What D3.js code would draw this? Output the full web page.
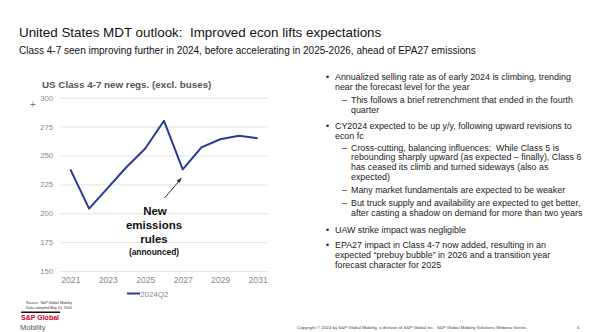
<!DOCTYPE html>
<html><head><meta charset="utf-8">
<script src="https://cdn.jsdelivr.net/npm/d3@7"></script>
<style>
html,body{margin:0;padding:0;background:#fff;}
svg{display:block;font-family:"Liberation Sans",Arial,sans-serif;}
svg text{white-space:pre;}
</style></head>
<body>
<svg id="c" width="602" height="332"></svg>
<script>
const years = [2021,2022,2023,2024,2025,2026,2027,2028,2029,2030,2031];
const regs2024Q2 = [238,204,222,240,256,280,238,257,264,267,265];
const yTicks = [150,175,200,225,250,275,300];
const xTickYears = [2021,2023,2025,2027,2029,2031];
const seriesName = "2024Q2";
const bullets = [
  {lvl:0, lines:["Annualized selling rate as of early 2024 is climbing, trending","near the forecast level for the year"]},
  {lvl:1, lines:["This follows a brief retrenchment that ended in the fourth","quarter"]},
  {lvl:0, lines:["CY2024 expected to be up y/y, following upward revisions to","econ fc"]},
  {lvl:1, lines:["Cross-cutting, balancing influences:  While Class 5 is","rebounding sharply upward (as expected \u2013 finally), Class 6","has ceased its climb and turned sideways (also as","expected)"]},
  {lvl:1, lines:["Many market fundamentals are expected to be weaker"]},
  {lvl:1, lines:["But truck supply and availability are expected to get better,","after casting a shadow on demand for more than two years"]},
  {lvl:0, lines:["UAW strike impact was negligible"]},
  {lvl:0, lines:["EPA27 impact in Class 4-7 now added, resulting in an","expected \u201cprebuy bubble\u201d in 2026 and a transition year","forecast character for 2025"]}
];

const svg = d3.select("#c");

// Titles
svg.append("text").attr("x",19).attr("y",37).attr("font-size",13.4).attr("fill","#111")
  .text("United States MDT outlook:  Improved econ lifts expectations");
svg.append("text").attr("x",19).attr("y",54).attr("font-size",10).attr("fill","#111")
  .text("Class 4-7 seen improving further in 2024, before accelerating in 2025-2026, ahead of EPA27 emissions");

// Chart
svg.append("text").attr("x",42).attr("y",88).attr("font-size",9.8).attr("font-weight","bold").attr("fill","#555")
  .text("US Class 4-7 new regs. (excl. buses)");

const x = d3.scalePoint().domain(years).range([61,267]).padding(0.5);
const y = d3.scaleLinear().domain([150,300]).range([271,97.7]);

const gy = svg.append("g").attr("transform","translate(61,0)")
  .call(d3.axisLeft(y).tickValues(yTicks).tickSize(-206).tickPadding(8));
gy.select(".domain").remove();
gy.selectAll(".tick line").attr("stroke","#e3e3e3").attr("stroke-width",1);
gy.selectAll(".tick text").attr("fill","#8a8a8a").attr("font-size",7.7).attr("font-family","Liberation Sans, Arial, sans-serif");

const gx = svg.append("g").attr("transform","translate(0,271)")
  .call(d3.axisBottom(x).tickValues(xTickYears).tickSize(0).tickPadding(6).tickFormat(d3.format("d")));
gx.select(".domain").remove();
gx.selectAll(".tick text").attr("fill","#8a8a8a").attr("font-size",8.6).attr("font-family","Liberation Sans, Arial, sans-serif");

const line = d3.line().x((d,i)=>x(years[i])).y(d=>y(d));
svg.append("path").datum(regs2024Q2).attr("d",line).attr("fill","none")
  .attr("stroke","#2a3a97").attr("stroke-width",2).attr("stroke-linejoin","round");

// cursor-like mark
svg.append("text").attr("x",33).attr("y",108).attr("font-size",10).attr("fill","#777").attr("text-anchor","middle").text("+");

// Annotation arrow
svg.append("line").attr("x1",164.5).attr("y1",198).attr("x2",180).attr("y2",180)
  .attr("stroke","#333").attr("stroke-width",1);
svg.append("path").attr("d","M182,177.5 L176.5,180.5 L179.5,183 Z").attr("fill","#333");

const ann = svg.append("g").attr("text-anchor","middle").attr("fill","#111").attr("font-weight","bold");
ann.append("text").attr("x",155).attr("y",215).attr("font-size",11.5).text("New");
ann.append("text").attr("x",154).attr("y",229).attr("font-size",11.5).text("emissions");
ann.append("text").attr("x",154).attr("y",242.5).attr("font-size",11.5).text("rules");
ann.append("text").attr("x",154).attr("y",255).attr("font-size",8.4).text("(announced)");

// Legend
svg.append("line").attr("x1",127).attr("x2",140).attr("y1",293.5).attr("y2",293.5)
  .attr("stroke","#2a3a97").attr("stroke-width",2);
svg.append("text").attr("x",140).attr("y",296.5).attr("font-size",8).attr("fill","#8a8a8a").text(seriesName);

// Source
svg.append("text").attr("x",26).attr("y",304).attr("font-size",3.6).attr("fill","#333").text("Source:  S&P Global Mobility");
svg.append("text").attr("x",26).attr("y",309).attr("font-size",3.6).attr("fill","#333").text("Data compiled May 10, 2024");

// Logo
svg.append("rect").attr("x",21).attr("y",311.5).attr("width",39).attr("height",1.5).attr("fill","#111");
svg.append("text").attr("x",21).attr("y",320).attr("font-size",7).attr("font-weight","bold").attr("fill","#d6002a").text("S&P Global");
svg.append("text").attr("x",20).attr("y",330).attr("font-size",7.5).attr("fill","#555").text("Mobility");

// Footer
svg.append("text").attr("x",297).attr("y",329).attr("font-size",4.4).attr("fill","#444")
  .text("Copyright \u00a9 2024 by S&P Global Mobility, a division of S&P Global Inc.  S&P Global Mobility Solutions Webinar Series.");
svg.append("text").attr("x",577).attr("y",329).attr("font-size",4.4).attr("fill","#444").text("6");

// Bullets
const bg = svg.append("g").attr("font-size",8.9).attr("fill","#222");
const lineH = 9.6;
const gapAfter = [4.1, 6.5, 2.6, 3.6, 3.7, 7.3, 6.1, 0];
let cy = 80;
bullets.forEach((b,bi)=>{
  const tx = b.lvl===0 ? 335 : 351;
  bg.append("text").attr("x", b.lvl===0 ? 326 : 342).attr("y",cy)
    .text(b.lvl===0 ? "\u2022" : "\u2013");
  b.lines.forEach((l,li)=>{
    bg.append("text").attr("x",tx).attr("y",cy).text(l);
    cy += lineH;
  });
  cy += gapAfter[bi];
});
</script>
</body></html>
